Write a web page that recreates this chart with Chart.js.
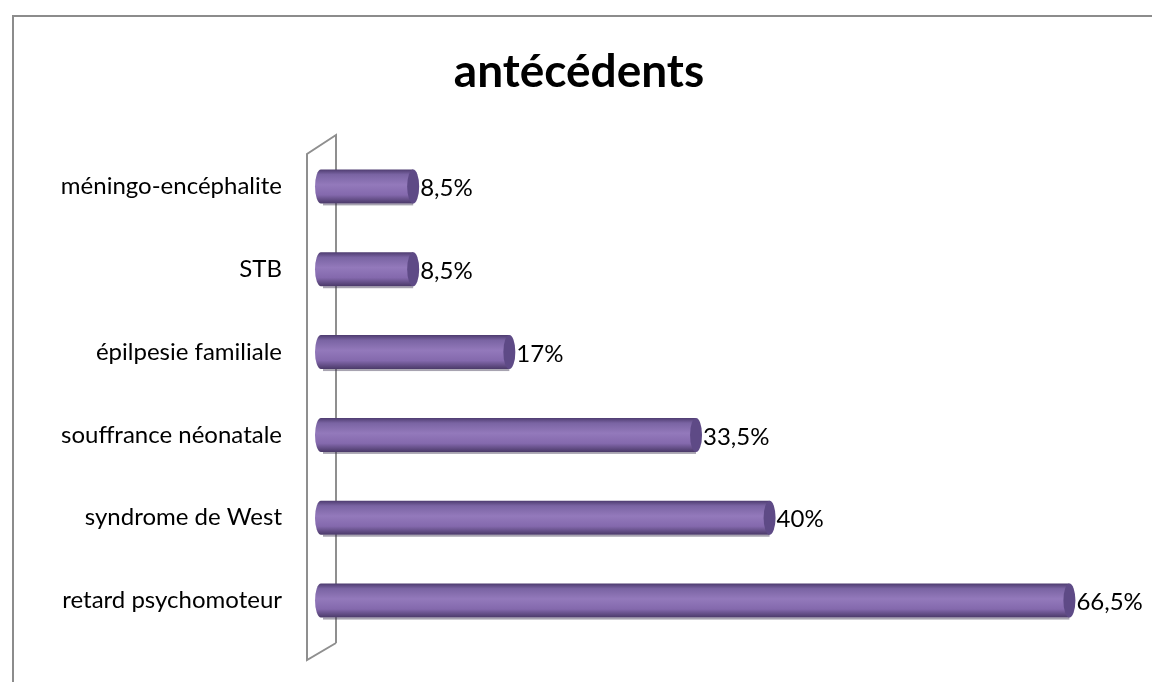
<!DOCTYPE html>
<html>
<head>
<meta charset="utf-8">
<script src="https://cdn.jsdelivr.net/npm/chart.js@4"></script>
<style>
  html, body { margin: 0; padding: 0; background: #fff; }
  #wrap { position: relative; width: 1152px; height: 682px; }
</style>
</head>
<body>
<div id="wrap"><canvas id="chart" width="1152" height="682"></canvas></div>
<script>
// antécédents — horizontal cylinder bars
const categories = ['méningo-encéphalite', 'STB', 'épilpesie familiale', 'souffrance néonatale', 'syndrome de West', 'retard psychomoteur'];
const values     = [8.5, 8.5, 17, 33.5, 40, 66.5];
const valueLabels = ['8,5%', '8,5%', '17%', '33,5%', '40%', '66,5%'];
const titleText  = 'antécédents';

const FONT = 'Lato, "Open Sans", sans-serif';

// frame, title and the 3D wall behind the bars
const decorPlugin = {
  id: 'decor',
  beforeDatasetsDraw(chart) {
    const { ctx, chartArea } = chart;
    const x0 = chart.scales.x.getPixelForValue(0);
    ctx.save();
    // outer frame (top + left only visible)
    ctx.strokeStyle = '#8c8c8c';
    ctx.lineWidth = 2;
    ctx.beginPath();
    ctx.moveTo(13, 682);
    ctx.lineTo(13, 16);
    ctx.lineTo(1152, 16);
    ctx.stroke();
    // title
    ctx.fillStyle = '#000';
    ctx.font = 'bold 46px ' + FONT;
    ctx.textAlign = 'center';
    ctx.textBaseline = 'middle';
    ctx.fillText(titleText, 579, 72);
    // wall
    const lx = x0 - 10, rx = x0 + 19;
    ctx.strokeStyle = '#8f8f8f';
    ctx.lineWidth = 2;
    ctx.beginPath();
    ctx.moveTo(rx, chartArea.bottom + 1);
    ctx.lineTo(rx, chartArea.top - 10);
    ctx.lineTo(lx, chartArea.top + 9);
    ctx.lineTo(lx, chartArea.bottom + 18);
    ctx.lineTo(rx, chartArea.bottom + 1);
    ctx.stroke();
    ctx.restore();
  },
  afterDatasetsDraw(chart) {
    const { ctx } = chart;
    const meta = chart.getDatasetMeta(0);
    ctx.save();
    meta.data.forEach((bar, i) => {
      const h = bar.height;
      const top = bar.y - h / 2;
      const left = bar.base + 4, right = bar.x;
      const rx = 6;
      // shadow under the cylinder
      ctx.fillStyle = 'rgba(60,50,80,0.45)';
      ctx.fillRect(left + 2, top + h, right - left - 2, 2);
      // body
      const g = ctx.createLinearGradient(0, top, 0, top + h);
      g.addColorStop(0, '#4e3c70');
      g.addColorStop(0.15, '#7a64a3');
      g.addColorStop(0.45, '#9379bb');
      g.addColorStop(0.75, '#8469ad');
      g.addColorStop(1, '#4a3968');
      ctx.fillStyle = g;
      ctx.beginPath();
      ctx.ellipse(left, bar.y, rx, h / 2, 0, Math.PI / 2, Math.PI * 1.5);
      ctx.lineTo(right, top);
      ctx.lineTo(right, top + h);
      ctx.closePath();
      ctx.fill();
      // end cap
      ctx.fillStyle = '#5e4a86';
      ctx.beginPath();
      ctx.ellipse(right, bar.y, rx, h / 2, 0, 0, Math.PI * 2);
      ctx.fill();
      // value label
      ctx.fillStyle = '#000';
      ctx.font = '24px ' + FONT;
      ctx.textAlign = 'left';
      ctx.textBaseline = 'middle';
      ctx.fillText(valueLabels[i], right + rx + 1, bar.y + 2);
    });
    ctx.restore();
  }
};

new Chart(document.getElementById('chart'), {
  type: 'bar',
  data: {
    labels: categories,
    datasets: [{
      data: values,
      backgroundColor: 'rgba(0,0,0,0)',
      borderWidth: 0,
      categoryPercentage: 0.82,
      barPercentage: 0.5
    }]
  },
  options: {
    indexAxis: 'y',
    responsive: false,
    animation: false,
    layout: { padding: { top: 145, right: 43, bottom: 40, left: 0 } },
    plugins: {
      legend: { display: false },
      tooltip: { enabled: false }
    },
    scales: {
      x: { min: 0, max: 70, display: false },
      y: {
        afterFit(scale) { scale.width = 317; scale.paddingTop = 0; scale.paddingBottom = 0; },
        grid: { display: false, drawTicks: false },
        border: { display: false },
        ticks: { color: '#000', font: { family: FONT, size: 24 }, padding: 35 }
      }
    }
  },
  plugins: [decorPlugin]
});
</script>
</body>
</html>
